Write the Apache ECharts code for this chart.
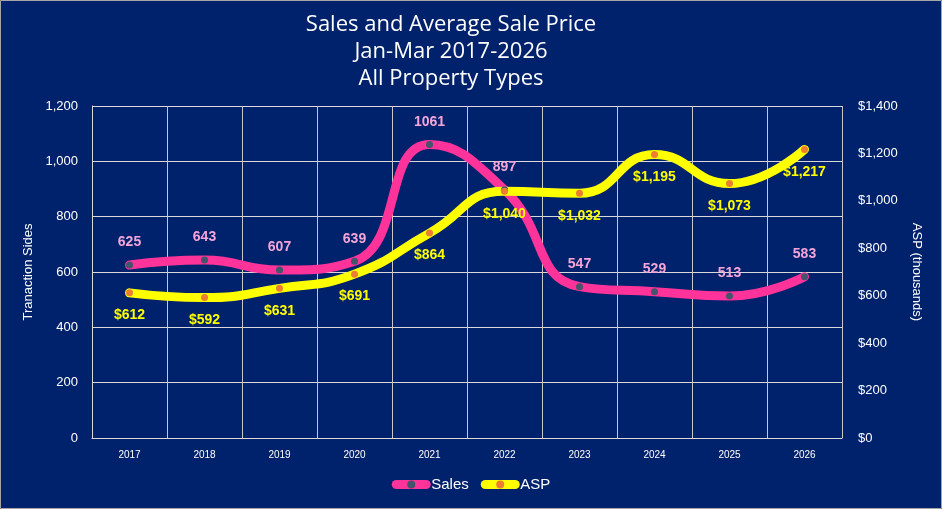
<!DOCTYPE html>
<html>
<head>
<meta charset="utf-8">
<script src="https://cdn.jsdelivr.net/npm/echarts@6/dist/echarts.min.js"></script>
</head>
<body style="margin:0;background:#00216b">
<div id="main" style="width:942px;height:509px;"></div>
<script>
    // 数据
    var years = ['2017', '2018', '2019', '2020', '2021', '2022', '2023', '2024', '2025', '2026'];
    var sales = [625, 643, 607, 639, 1061, 897, 547, 529, 513, 583];
    var asp = [612, 592, 631, 691, 864, 1040, 1032, 1195, 1073, 1217];

    function fmtNum(v) {
        return String(v).replace(/\B(?=(\d{3})+(?!\d))/g, ',');
    }

    var chart = echarts.init(document.getElementById('main'));
    var option = {
        backgroundColor: '#00216b',
        graphic: [{
            type: 'rect',
            shape: { x: 0.5, y: 0.5, width: 941, height: 508 },
            style: { fill: 'none', stroke: '#a6a6a6', lineWidth: 1 },
            silent: true
        }],
        title: {
            text: 'Sales and Average Sale Price\nJan-Mar 2017-2026\nAll Property Types',
            left: 446,
            top: 6,
            textAlign: 'center',
            textStyle: {
                color: '#ffffff',
                fontFamily: 'Open Sans',
                fontWeight: 'normal',
                fontSize: 22,
                lineHeight: 27
            }
        },
        legend: {
            bottom: 12,
            left: 'center',
            itemWidth: 30,
            itemHeight: 10,
            itemGap: 12,
            textStyle: { color: '#ffffff', fontSize: 15, fontFamily: 'Liberation Sans' },
            lineStyle: { width: 9, cap: 'round' },
            data: ['Sales', 'ASP']
        },
        grid: { left: 92, right: 100, top: 106, bottom: 71 },
        xAxis: {
            type: 'category',
            data: years,
            axisLine: { lineStyle: { color: '#d9d9d9' } },
            axisTick: { show: false },
            axisLabel: { color: '#ffffff', fontSize: 10, margin: 12, fontFamily: 'Liberation Sans' },
            splitLine: { show: true, lineStyle: { color: '#c8c8c8', width: 1 } }
        },
        yAxis: [
            {
                type: 'value',
                min: 0, max: 1200, interval: 200,
                name: 'Tranaction Sides',
                nameLocation: 'middle',
                nameGap: 56,
                nameTextStyle: { color: '#ffffff', fontSize: 13, fontFamily: 'Liberation Sans' },
                axisLine: { show: true, lineStyle: { color: '#d9d9d9' } },
                axisLabel: { color: '#ffffff', fontSize: 13, margin: 14, fontFamily: 'Liberation Sans',
                    formatter: function (v) { return fmtNum(v); } },
                splitLine: { lineStyle: { color: '#d9d9d9', width: 1 } }
            },
            {
                type: 'value',
                min: 0, max: 1400, interval: 200,
                name: 'ASP (thousands)',
                nameLocation: 'middle',
                nameGap: 68,
                nameRotate: -90,
                nameTextStyle: { color: '#ffffff', fontSize: 13, fontFamily: 'Liberation Sans' },
                axisLine: { show: false },
                axisLabel: { color: '#ffffff', fontSize: 13, margin: 16, fontFamily: 'Liberation Sans',
                    formatter: function (v) { return '$' + fmtNum(v); } },
                splitLine: { show: false }
            }
        ],
        series: [
            {
                name: 'Sales',
                type: 'line',
                data: sales,
                smooth: 0.5,
                symbol: 'circle',
                symbolSize: 7,
                lineStyle: { color: '#ff3399', width: 9, cap: 'round' },
                itemStyle: { color: '#44546a' },
                label: {
                    show: true, position: 'top', distance: 12,
                    color: '#f4a6d8', fontSize: 14, fontWeight: 'bold', fontFamily: 'Liberation Sans'
                }
            },
            {
                name: 'ASP',
                type: 'line',
                yAxisIndex: 1,
                data: asp,
                smooth: 0.5,
                symbol: 'circle',
                symbolSize: 7,
                lineStyle: { color: '#ffff00', width: 9, cap: 'round' },
                itemStyle: { color: '#ed7d31' },
                label: {
                    show: true, position: 'bottom', distance: 12,
                    color: '#ffff00', fontSize: 14, fontWeight: 'bold', fontFamily: 'Liberation Sans',
                    formatter: function (p) { return '$' + fmtNum(p.value); }
                }
            }
        ]
    };
    chart.setOption(option);
</script>
</body>
</html>
